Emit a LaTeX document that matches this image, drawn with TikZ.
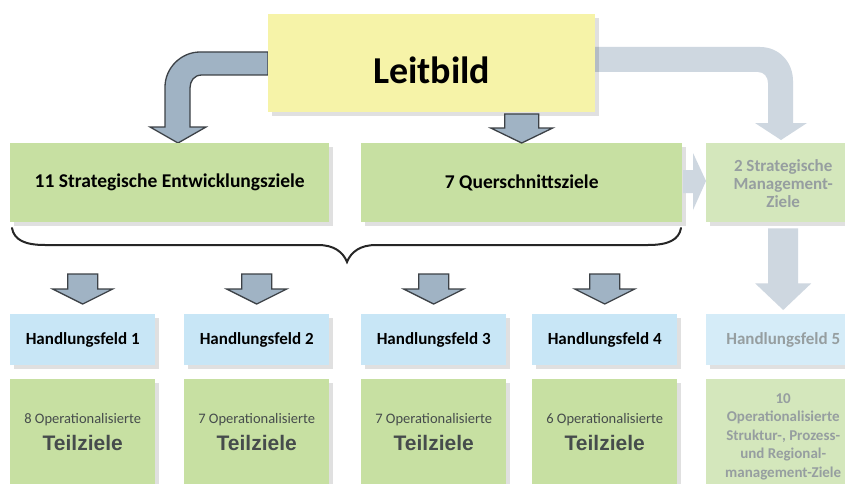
\documentclass[tikz,border=0pt]{standalone}
\usepackage{fontspec}
\setmainfont{Carlito}
\newfontfamily\arialfont{Liberation Sans}
\usetikzlibrary{shadows,calc}
\definecolor{leitY}{RGB}{246,243,168}
\definecolor{boxG}{RGB}{199,224,162}
\definecolor{boxB}{RGB}{200,230,246}
\definecolor{arrF}{RGB}{160,179,196}
\definecolor{arrD}{RGB}{60,65,70}
\definecolor{arrL}{RGB}{206,215,224}
\definecolor{fadeG}{RGB}{212,231,188}
\definecolor{fadeB}{RGB}{213,236,248}
\definecolor{fadeT}{RGB}{150,158,160}
\definecolor{darkT}{RGB}{70,76,76}
\tikzset{
  boxbase/.style={anchor=north west, inner sep=0pt, align=center,
    drop shadow={shadow xshift=4pt, shadow yshift=-4pt, opacity=0.12, fill=black}},
  greenbox/.style={boxbase, fill=boxG},
  bluebox/.style={boxbase, fill=boxB},
  fgreenbox/.style={boxbase, fill=fadeG},
  fbluebox/.style={boxbase, fill=fadeB},
  hfont/.style={font=\fontsize{17}{20}\selectfont\bfseries, text=black},
  tzbox/.style={greenbox, minimum width=145pt, minimum height=105pt,
    font=\fontsize{14.5}{27}\selectfont, text=darkT},
  dnarr/.pic={\draw[arrD, fill=arrF, line width=1.3pt, line join=miter]
     (-15,-30) -- (15,-30) -- (15,-15) -- (30,-15) -- (0,0) -- (-30,-15) -- (-15,-15) -- cycle;},
  midarr/.pic={\draw[arrD, fill=arrF, line width=1.3pt, line join=miter]
     (-17,-29) -- (17,-29) -- (17,-15) -- (31,-15) -- (0,0) -- (-31,-15) -- (-17,-15) -- cycle;}
}
\newcommand{\opz}[1]{\begin{tabular}{@{}c@{}}#1 Operationalisierte\\
  {\arialfont\bfseries\fontsize{21}{24}\selectfont Teilziele}\end{tabular}}
\begin{document}
\begin{tikzpicture}[x=1pt,y=-1pt]
\useasboundingbox (0,0) rectangle (845,484);
\clip (0,0) rectangle (845,484);
\fill[white] (0,0) rectangle (845,484);

% light curved arrow to management (behind)
\coordinate (ra) at (595,47);
\fill[arrL] (ra) -- (760,47) .. controls (779,47) and (793,62) .. (793,81)
   -- (793,123) -- (807,123) -- (781,140) -- (755,123) -- (768,123) -- (768,83)
   .. controls (768,77) and (764,72) .. (758,72) -- (595,72) -- cycle;
% dark curved arrow to strategic goals
\draw[arrD, fill=arrF, line width=1.3pt, line join=miter]
   (268,52) -- (200,52) .. controls (181,52) and (165,68) .. (165,87)
   -- (165,127) -- (150,127) -- (178,143) -- (206,127) -- (190,127) -- (190,88)
   .. controls (190,81) and (194,75) .. (202,75) -- (268,75) -- cycle;

% Leitbild
\node[boxbase, fill=leitY, minimum width=327pt, minimum height=98pt] (leit) at (268,14)
  {\raisebox{-20pt}[0pt][0pt]{\fontsize{38}{40}\selectfont\bfseries Leitbild}};

% top row
\node[greenbox, minimum width=319pt, minimum height=79pt, hfont, font=\fontsize{19.5}{22}\selectfont\bfseries] (s1) at (10,143) {11 Strategische Entwicklungsziele};
\node[greenbox, minimum width=321pt, minimum height=79pt, hfont, font=\fontsize{19.5}{22}\selectfont\bfseries] (s2) at (361,143) {7 Querschnittsziele};
% faint right arrow
\fill[arrL] (683,170) -- (693,170) -- (693,153) -- (706,181) -- (693,210) -- (693,193) -- (683,193) -- cycle;
\node[fgreenbox, minimum width=154pt, minimum height=79pt, text=fadeT,
      font=\fontsize{17}{18}\selectfont\bfseries] (mg) at (706,143)
  {\raisebox{-8pt}[0pt][0pt]{\begin{tabular}{@{}c@{}}2 Strategische\\Management-\\Ziele\end{tabular}}};

\pic at (s2.north) {midarr};

% brace
\coordinate (bl) at (12,228);
\coordinate (bm) at (347,262);
\coordinate (br) at (681,228);
\draw[black!85, line width=2pt, line cap=round]
  (bl) .. controls (14,240) and (25,245) .. (45,245) -- (318,245)
  .. controls (334,245) and (343,252) .. (bm)
  .. controls (351,252) and (360,245) .. (376,245) -- (648,245)
  .. controls (668,245) and (679,240) .. (br);

% Handlungsfelder
\node[bluebox, minimum width=145pt, minimum height=51pt, hfont] (h1) at (10,314) {Handlungsfeld 1};
\node[bluebox, minimum width=145pt, minimum height=51pt, hfont] (h2) at (184,314) {Handlungsfeld 2};
\node[bluebox, minimum width=145pt, minimum height=51pt, hfont] (h3) at (361,314) {Handlungsfeld 3};
\node[bluebox, minimum width=145pt, minimum height=51pt, hfont] (h4) at (532,314) {Handlungsfeld 4};
\node[fbluebox, minimum width=154pt, minimum height=51pt, hfont, text=fadeT] (h5) at (706,314) {Handlungsfeld 5};

\foreach \n in {h1,h2,h3,h4} \pic at ($(\n.north)+(0,-10)$) {dnarr};

% management down arrow
\fill[arrL] ($(mg.south)+(-15,6)$) -- ($(mg.south)+(15,6)$) -- ($(mg.south)+(15,61)$)
  -- ($(mg.south)+(28,61)$) -- ($(h5.north)+(0,-4)$) -- ($(mg.south)+(-28,61)$)
  -- ($(mg.south)+(-15,61)$) -- cycle;

% Teilziele
\node[tzbox] (t1) at (10,379) {\opz{8}};
\node[tzbox] (t2) at (184,379) {\opz{7}};
\node[tzbox] (t3) at (361,379) {\opz{7}};
\node[tzbox] (t4) at (532,379) {\opz{6}};
\node[fgreenbox, minimum width=154pt, minimum height=115pt, text=fadeT,
      font=\fontsize{15}{18.5}\selectfont\bfseries] (t5) at (706,379)
  {10\\Operationalisierte\\Struktur-, Prozess-\\und Regional-\\management-Ziele};
\end{tikzpicture}
\end{document}
